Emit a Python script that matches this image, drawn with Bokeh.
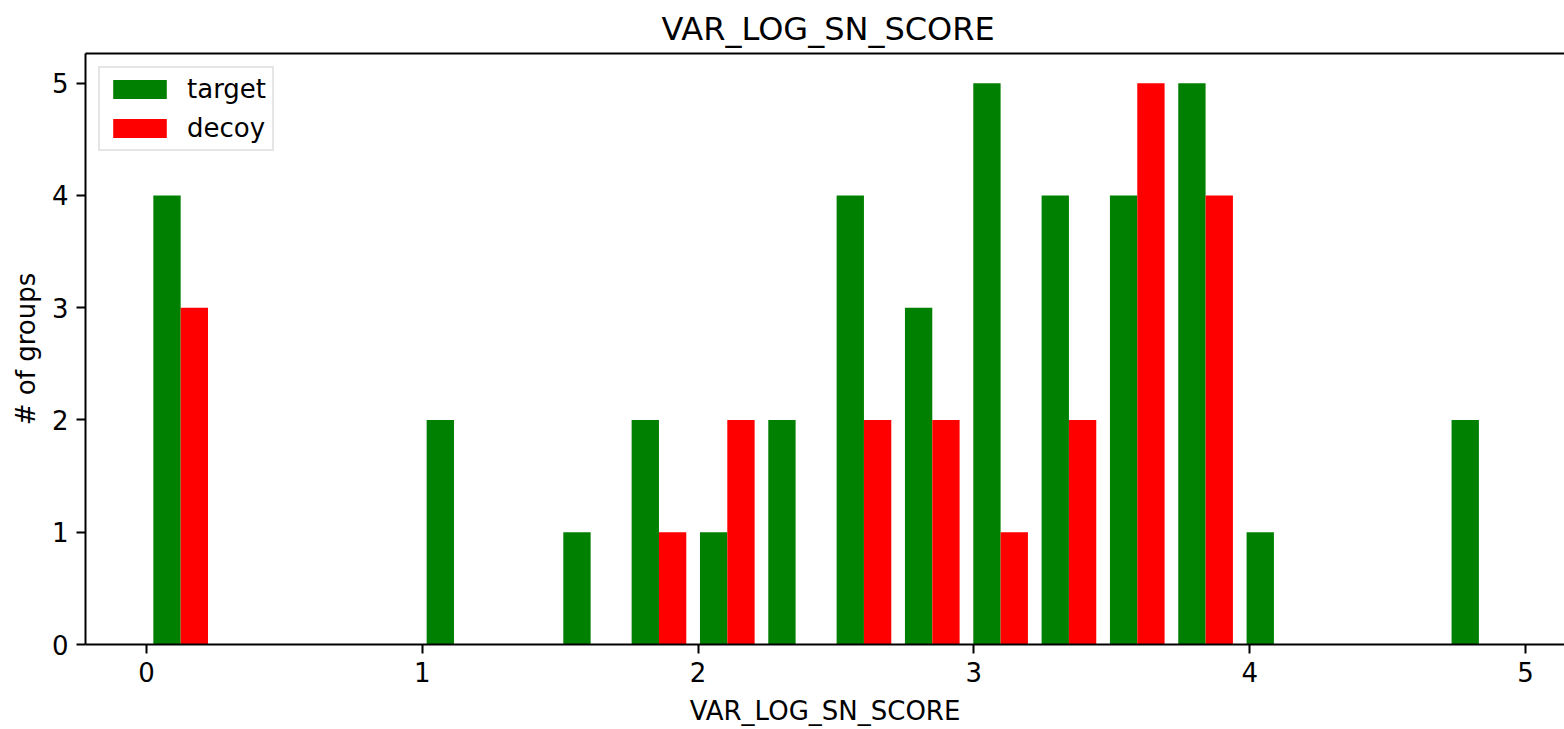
import numpy as np
from bokeh.plotting import figure
from bokeh.models import ColumnDataSource, Legend, LegendItem, LinearAxis, FixedTicker, Range1d
from bokeh.embed import file_html
from bokeh.resources import INLINE

# ---- data ----
bin_lo = 0.0
bin_hi = 4.955
n_bins = 20
target_counts = [4, 0, 0, 0, 2, 0, 1, 2, 1, 2, 4, 3, 5, 4, 4, 5, 1, 0, 0, 2]
decoy_counts = [3, 0, 0, 0, 0, 0, 0, 1, 2, 0, 2, 2, 1, 2, 5, 4, 0, 0, 0, 0]
series_names = ["target", "decoy"]
series_colors = ["#008000", "#ff0000"]
x_ticks = [0, 1, 2, 3, 4, 5]
y_ticks = [0, 1, 2, 3, 4, 5]

FONT = "DejaVu Sans"

edges = np.linspace(bin_lo, bin_hi, n_bins + 1)
bw = edges[1] - edges[0]

p = figure(width=1564, height=729, output_backend="svg", toolbar_location=None,
           x_range=Range1d(-0.2212, 5.1415), y_range=Range1d(0, 5.265),
           min_border_left=85, min_border_right=0, min_border_top=53, min_border_bottom=85)

renderers = []
for i, (counts, color) in enumerate(zip([target_counts, decoy_counts], series_colors)):
    lefts = edges[:-1] + bw * (0.1 + 0.4 * i)
    src = ColumnDataSource(dict(left=lefts, right=lefts + 0.4 * bw,
                                top=np.array(counts, dtype=float), bottom=np.zeros(n_bins)))
    r = p.quad(left="left", right="right", top="top", bottom="bottom", source=src,
               fill_color=color, line_color=None)
    renderers.append(r)

p.title.text = "VAR_LOG_SN_SCORE"
p.title.align = "left"
p.title.offset = 576
p.title.text_font = FONT
p.title.text_font_size = "32px"
p.title.text_font_style = "normal"
p.title.text_color = "black"
p.title.standoff = 12

p.grid.visible = False
p.outline_line_color = None
p.background_fill_color = "white"
p.border_fill_color = "white"

for ax in (p.xaxis[0], p.yaxis[0]):
    ax.axis_line_width = 2
    ax.axis_line_color = "black"
    ax.major_tick_line_width = 2
    ax.major_tick_line_color = "black"
    ax.major_tick_out = 9
    ax.major_tick_in = 0
    ax.minor_tick_line_color = None
    ax.major_label_text_font = FONT
    ax.major_label_text_font_size = "26px"
    ax.major_label_text_color = "black"
    ax.axis_label_text_font = FONT
    ax.axis_label_text_font_size = "26px"
    ax.axis_label_text_font_style = "normal"
    ax.axis_label_text_color = "black"
    ax.major_label_standoff = 8

p.xaxis[0].ticker = FixedTicker(ticks=x_ticks)
p.yaxis[0].ticker = FixedTicker(ticks=y_ticks)
p.xaxis[0].axis_label = "VAR_LOG_SN_SCORE"
p.yaxis[0].axis_label = "# of groups"
p.xaxis[0].axis_label_standoff = 11
p.yaxis[0].axis_label_standoff = 8

top_axis = LinearAxis(ticker=FixedTicker(ticks=[]), axis_line_width=2, axis_line_color="black",
                      major_tick_line_color=None, minor_tick_line_color=None,
                      major_label_text_font_size="0px")
p.add_layout(top_axis, "above")

legend = Legend(items=[LegendItem(label=n, renderers=[r]) for n, r in zip(series_names, renderers)],
                location="top_left")
legend.label_text_font = FONT
legend.label_text_font_size = "26px"
legend.label_text_color = "black"
legend.glyph_width = 67
legend.glyph_height = 24
legend.label_standoff = 14
legend.spacing = 9
legend.padding = 6
legend.margin = 13
legend.border_line_color = "#cccccc"
legend.border_line_width = 2
legend.background_fill_alpha = 0.8
p.add_layout(legend, "center")

open("out.html", "w").write(file_html(p, INLINE))
